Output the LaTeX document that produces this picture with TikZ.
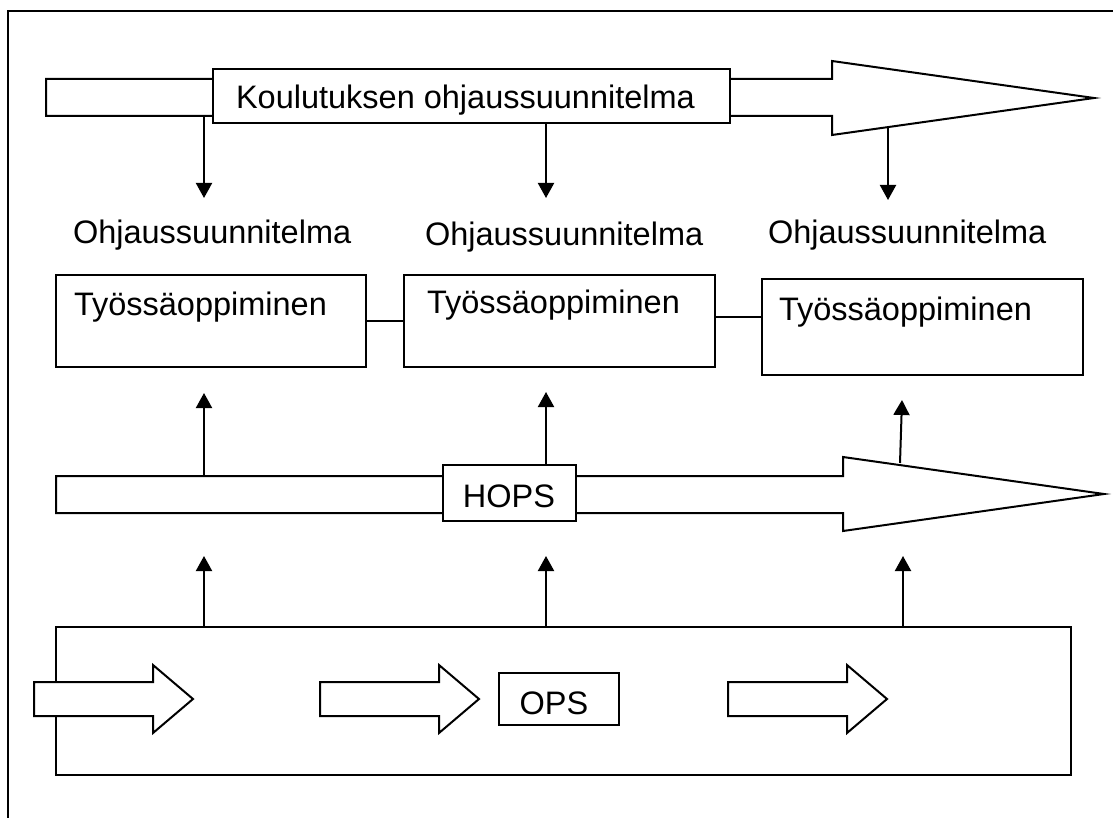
\documentclass[tikz,border=0pt]{standalone}
\usepackage{fontspec}
\setmainfont{Liberation Sans}
\usetikzlibrary{arrows.meta}
\begin{document}
\begin{tikzpicture}[x=1pt, y=-1pt, font=\fontsize{32.5}{38}\selectfont, line width=2pt]
     \tikzstyle{box}=[draw, fill=white, inner sep=0pt]
     \tikzstyle{txt}=[inner sep=0pt, anchor=base west]
     \tikzstyle{arr}=[-{Triangle[width=16pt,length=15pt]}]
     \tikzstyle{bigarrow}=[draw, fill=white, line join=miter]
     \useasboundingbox (0,0) rectangle (1113,818);
     \draw (1113,11) -- (8,11) -- (8,818);
     \draw[bigarrow] (46,79) -- (832,79) -- (832,61) -- (1094,98) -- (832,135) -- (832,116) -- (46,116) -- cycle;
     \node[box, minimum width=517pt, minimum height=54pt] (kbox) at (471.5,96) {};
     \node[txt] (ktxt) at (235,109) {Koulutuksen ohjaussuunnitelma};
     \node[txt] (ohj1) at (72,244) {Ohjaussuunnitelma};
     \node[txt] (ohj2) at (424,246) {Ohjaussuunnitelma};
     \node[txt] (ohj3) at (767,244) {Ohjaussuunnitelma};
     \node[box, minimum width=310pt, minimum height=92pt] (tyo1) at (211,321) {};
     \node[box, minimum width=311pt, minimum height=92pt] (tyo2) at (559.5,321) {};
     \node[box, minimum width=321pt, minimum height=96pt] (tyo3) at (922.5,327) {};
     \node[txt] at (73,315) {Työssäoppiminen};
     \node[txt] at (426,313) {Työssäoppiminen};
     \node[txt] at (778,320) {Työssäoppiminen};
     \draw (tyo1) -- (tyo2);
     \draw (tyo2.east |- 0,317) -- (tyo3.west |- 0,317);
     \draw[bigarrow] (56,476) -- (843,476) -- (843,457) -- (1104,494) -- (843,531) -- (843,513) -- (56,513) -- cycle;
     \node[box, minimum width=133pt, minimum height=56pt] (hops) at (509.5,493) {};
     \node[inner sep=0pt, anchor=base] at (509,507) {HOPS};
     \node[box, minimum width=1015pt, minimum height=148pt] (opsbig) at (563.5,701) {};
     \foreach \x in {34,320,728}
       \draw[bigarrow] (\x,682) -- (\x+119,682) -- (\x+119,665) -- (\x+159,699) -- (\x+119,733) -- (\x+119,716) -- (\x,716) -- cycle;
     \node[box, minimum width=120pt, minimum height=52pt] (ops) at (559,699) {};
     \node[inner sep=0pt, anchor=base] at (554,714) {OPS};
     \coordinate (d1) at (204,116);
     \coordinate (d3) at (888,127);
     \coordinate (u3) at (900,463);
     \draw[arr] (d1) -- (204,198);
     \draw[arr] (kbox.south -| 546,0) -- (546,198);
     \draw[arr] (d3) -- (888,200);
     \draw[arr] (204,476) -- (204,393);
     \draw[arr] (hops.north -| 546,0) -- (546,392);
     \draw[arr] (u3) -- (902,400);
     \foreach \x in {204,546,903}
       \draw[arr] (opsbig.north -| \x,0) -- (\x,556);
\end{tikzpicture}
\end{document}
